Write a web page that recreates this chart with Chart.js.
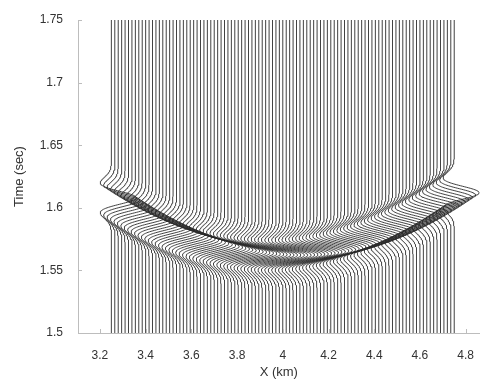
<!DOCTYPE html>
<html>
<head>
<meta charset="utf-8">
<script src="https://cdn.jsdelivr.net/npm/chart.js@4.4.1/dist/chart.umd.min.js"></script>
<style>
  html, body { margin: 0; padding: 0; background: #fff; }
</style>
</head>
<body>
<canvas id="c" width="481" height="381"></canvas>
<script>
// Axis ticks and their labels
const X_TICKS = [3.2, 3.4, 3.6, 3.8, 4.0, 4.2, 4.4, 4.6, 4.8];
const X_TICK_LABELS = ['3.2', '3.4', '3.6', '3.8', '4', '4.2', '4.4', '4.6', '4.8'];
const Y_TICKS = [1.5, 1.55, 1.6, 1.65, 1.7, 1.75];
const Y_TICK_LABELS = ['1.5', '1.55', '1.6', '1.65', '1.7', '1.75'];

// Receiver line (km)
const TRACE_FIRST_KM = 3.25;
const TRACE_LAST_KM = 4.75;
const TRACE_STEP_KM = 0.015;

// Reflection event: hyperbolic moveout and Ricker wavelet
const APEX_TIME_S = 1.5622;
const APEX_X_KM = 3.984;
const MOVEOUT_VEL_KMS = 1.926;
const WAVELET_FREQ_HZ = 32.5;
const WIGGLE_AMP_KM = 0.109;

// Record window
const T_START = 1.5;
const T_END = 1.75;
const DT = 0.0004;

function ricker(tau) {
  const a = Math.PI * WAVELET_FREQ_HZ * tau;
  const a2 = a * a;
  return (1 - 2 * a2) * Math.exp(-a2);
}

function arrival(x) {
  const dx = (x - APEX_X_KM) / MOVEOUT_VEL_KMS;
  return Math.sqrt(APEX_TIME_S * APEX_TIME_S + dx * dx);
}

const traceCount = Math.round((TRACE_LAST_KM - TRACE_FIRST_KM) / TRACE_STEP_KM) + 1;
const sampleCount = Math.round((T_END - T_START) / DT);

const datasets = [];
for (let k = 0; k < traceCount; k++) {
  const x0 = TRACE_FIRST_KM + k * TRACE_STEP_KM;
  const t0 = arrival(x0);
  const pts = [];
  for (let i = 0; i <= sampleCount; i++) {
    const t = T_START + i * DT;
    pts.push({ x: x0 + WIGGLE_AMP_KM * ricker(t - t0), y: t });
  }
  datasets.push({
    data: pts,
    showLine: true,
    borderColor: '#2b2b2b',
    borderWidth: 0.9,
    pointRadius: 0,
    tension: 0,
    fill: false
  });
}

const FONT = 'Liberation Sans, Arial, Helvetica, sans-serif';
const TEXT = '#333';
const AXIS = '#bdbdbd';

// Short tick marks pointing into the plot area
const inwardTicks = {
  id: 'inwardTicks',
  afterDraw(chart) {
    const { ctx, chartArea: a, scales: { x, y } } = chart;
    ctx.save();
    ctx.strokeStyle = AXIS;
    ctx.lineWidth = 1;
    ctx.beginPath();
    X_TICKS.forEach(v => {
      const px = Math.round(x.getPixelForValue(v)) + 0.5;
      ctx.moveTo(px, a.bottom);
      ctx.lineTo(px, a.bottom - 4);
    });
    Y_TICKS.forEach(v => {
      const py = Math.round(y.getPixelForValue(v)) + 0.5;
      ctx.moveTo(a.left, py);
      ctx.lineTo(a.left + 4, py);
    });
    ctx.stroke();
    ctx.restore();
  }
};

new Chart(document.getElementById('c'), {
  type: 'scatter',
  data: { datasets },
  plugins: [inwardTicks],
  options: {
    responsive: false,
    animation: false,
    events: [],
    normalized: true,
    layout: { padding: { top: 20, right: 0, bottom: 0, left: 0 } },
    plugins: { legend: { display: false }, tooltip: { enabled: false } },
    scales: {
      x: {
        type: 'linear',
        position: 'bottom',
        min: 3.104,
        max: 4.861,
        grid: { display: false },
        border: { display: true, color: AXIS, width: 1 },
        afterBuildTicks: s => { s.ticks = X_TICKS.map(v => ({ value: v })); },
        afterFit: s => { s.height = 48; },
        ticks: {
          padding: 7,
          color: TEXT,
          font: { family: FONT, size: 12 },
          maxRotation: 0,
          autoSkip: false,
          callback: (v, i) => X_TICK_LABELS[i]
        },
        title: {
          display: true,
          text: 'X (km)',
          color: TEXT,
          font: { family: FONT, size: 13 },
          padding: { top: 0, bottom: 1 }
        }
      },
      y: {
        type: 'linear',
        position: 'left',
        min: 1.5,
        max: 1.75,
        grid: { display: false },
        border: { display: true, color: AXIS, width: 1 },
        afterBuildTicks: s => { s.ticks = Y_TICKS.map(v => ({ value: v })); },
        afterFit: s => { s.width = 78; },
        ticks: {
          padding: 7,
          color: TEXT,
          font: { family: FONT, size: 12 },
          autoSkip: false,
          callback: (v, i) => Y_TICK_LABELS[i]
        },
        title: {
          display: true,
          text: 'Time (sec)',
          color: TEXT,
          font: { family: FONT, size: 13 },
          padding: { top: 12, bottom: 0 }
        }
      }
    }
  }
});
</script>
</body>
</html>
